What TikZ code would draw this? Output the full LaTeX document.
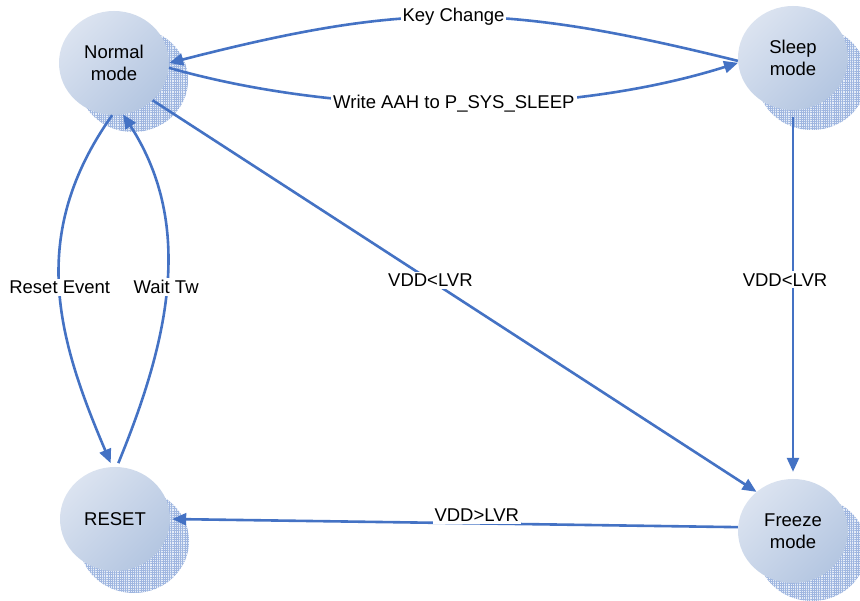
\documentclass[tikz,border=0pt]{standalone}
\usepackage{fontspec}
\setmainfont{Liberation Sans}
\usetikzlibrary{arrows.meta,patterns.meta,backgrounds,shapes.geometric}
\definecolor{edgeblue}{HTML}{4472C4}
\definecolor{nodelight}{HTML}{DBE3F0}
\definecolor{nodedark}{HTML}{B4C6E1}
\definecolor{shadowbg}{HTML}{E6EDF8}
\definecolor{shadowline}{HTML}{9FB6E0}
\begin{document}
\begin{tikzpicture}[x=1pt,y=-1pt,
  state/.style={ellipse, minimum width=110pt, minimum height=104pt, inner sep=0pt,
    shading=axis, top color=nodelight, bottom color=nodedark, shading angle=45,
    align=center, font=\fontsize{18.5}{22}\selectfont},
  stateshadow/.style={preaction={fill=shadowbg},
    pattern={Hatch[angle=0,distance=2.2pt,line width=0.55pt]}, pattern color=shadowline},
  conn/.style={draw=edgeblue, line width=2.6pt, -{Triangle[length=14pt,width=12pt]}},
  lbl/.style={fill=white, inner sep=2pt, font=\fontsize{18.5}{20}\selectfont}
]
\useasboundingbox (0,0) rectangle (860,601);

\node[state] (normal) at (114,63) {Normal\\mode};
\node[state] (sleep) at (793,58) {Sleep\\mode};
\node[state] (reset) at (115,519) {RESET};
\node[state] (freeze) at (793,531) {Freeze\\mode};

\begin{scope}[on background layer]
\fill[white] (0,0) rectangle (860,601);
\path[stateshadow] (normal.center) ++(19,17) ellipse [x radius=55pt, y radius=52pt];
\path[stateshadow] (sleep.center) ++(19,20) ellipse [x radius=55pt, y radius=52pt];
\path[stateshadow] (reset.center) ++(19,22) ellipse [x radius=55pt, y radius=52pt];
\path[stateshadow] (freeze.center) ++(19,18) ellipse [x radius=55pt, y radius=52pt];
\end{scope}

\draw[conn] (sleep.183) .. controls (500,2) and (407,2) .. (normal.east)
  node[lbl, pos=0.5] {Key Change};
\draw[conn] (normal.-5) .. controls (342,117) and (566,117) .. (sleep.185)
  node[lbl, pos=0.5] {Write AAH to P\_SYS\_SLEEP};
\draw[conn] (normal.-44) -- (freeze.133)
  node[lbl, pos=0.46] {VDD<LVR};
\draw[conn, shorten <=7pt, shorten >=7pt] (sleep.south) -- (freeze.north)
  node[lbl, pos=0.46, xshift=-8pt] {VDD<LVR};
\draw[conn, shorten >=2pt] (freeze.176) -- (reset.east)
  node[lbl, pos=0.46, yshift=8pt] {VDD>LVR};
\draw[conn, shorten >=4pt] (normal.268) .. controls +(-85,120) and +(-55,-129) .. (reset.93)
  node[lbl, pos=0.5] {Reset Event};
\draw[conn, shorten <=4pt] (reset.88) .. controls +(50,-122) and +(73,113) .. (normal.-80)
  node[lbl, pos=0.5] {Wait Tw};
\end{tikzpicture}
\end{document}
